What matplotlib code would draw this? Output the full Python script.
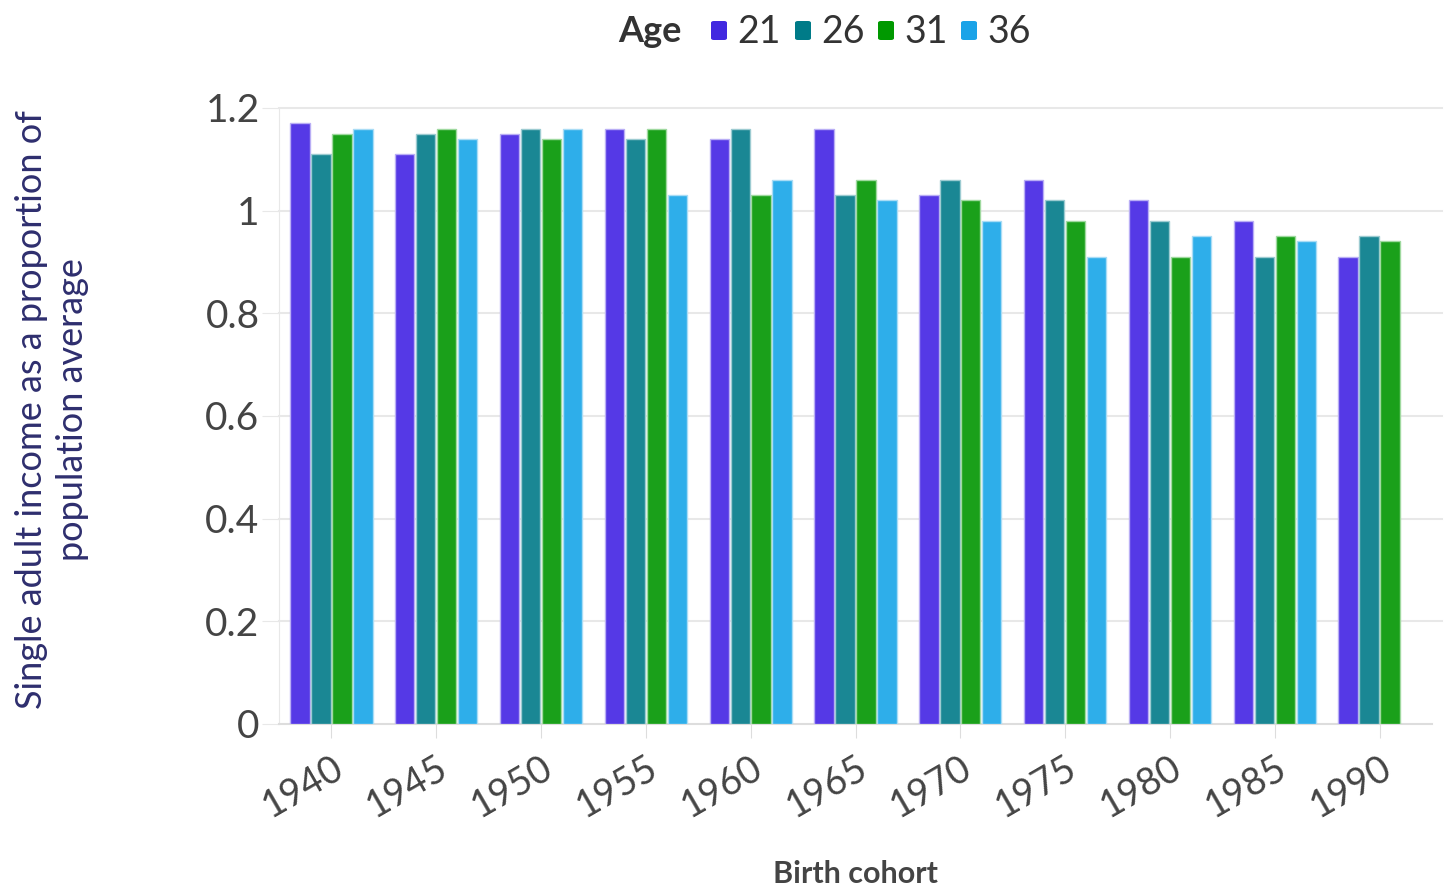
import numpy as np
import matplotlib
matplotlib.use("Agg")
import matplotlib.pyplot as plt
from matplotlib.patches import FancyBboxPatch

plt.rcParams['font.family'] = ['Lato', 'DejaVu Sans']

# Data
cohorts = ['1940', '1945', '1950', '1955', '1960', '1965', '1970', '1975', '1980', '1985', '1990']
age21 = [1.17, 1.11, 1.15, 1.16, 1.14, 1.16, 1.03, 1.06, 1.02, 0.98, 0.91]
age26 = [1.11, 1.15, 1.16, 1.14, 1.16, 1.03, 1.06, 1.02, 0.98, 0.91, 0.95]
age31 = [1.15, 1.16, 1.14, 1.16, 1.03, 1.06, 1.02, 0.98, 0.91, 0.95, 0.94]
age36 = [1.16, 1.14, 1.16, 1.03, 1.06, 1.02, 0.98, 0.91, 0.95, 0.94, np.nan]

ages = ['21', '26', '31', '36']
series = [age21, age26, age31, age36]
bar_colors = ['#5539e6', '#1a8794', '#1aa01a', '#2eaeea']
edge_colors = ['#b9aef5', '#9ccbd1', '#9fd99f', '#a9dcf5']
legend_colors = ['#4128e0', '#007b88', '#009900', '#1aa3e8']

W, H = 1445, 886
fig = plt.figure(figsize=(W / 100, H / 100), dpi=100)
ax = fig.add_axes([279 / W, 1 - 724 / H, (1432 - 279) / W, (724 - 108) / H])

x = np.arange(len(cohorts))
step = 0.2
for i, (vals, c, ec) in enumerate(zip(series, bar_colors, edge_colors)):
    ax.bar(x + (i - 1.5) * step, vals, width=0.185, color=c,
           edgecolor=ec, linewidth=1, zorder=3)

ax.set_xlim(-0.5, len(cohorts) - 0.5)
ax.set_ylim(0, 1.2)
ax.set_yticks([0, 0.2, 0.4, 0.6, 0.8, 1.0, 1.2])
ax.set_yticklabels(['0', '0.2', '0.4', '0.6', '0.8', '1', '1.2'])
ax.set_xticks(x)
ax.set_xticklabels(cohorts, rotation=30, ha='right', rotation_mode='anchor')

# gridlines run a little past the last group, as in the original
for yv in [0.2, 0.4, 0.6, 0.8, 1.0, 1.2]:
    ax.plot([-0.5, len(cohorts) - 0.4], [yv, yv], color='#e8e8e8',
            linewidth=1.5, zorder=0, clip_on=False)
for s in ['top', 'right']:
    ax.spines[s].set_visible(False)
ax.spines['left'].set_color('#e8e8e8')
ax.spines['bottom'].set_color('#dddddd')
ax.spines['bottom'].set_linewidth(1.5)
ax.tick_params(axis='y', length=12, color='#e8e8e8', labelsize=28,
               labelcolor='#444444', pad=2)
ax.tick_params(axis='x', length=10, color='#dddddd', labelsize=27,
               labelcolor='#444444', pad=8)

ax.set_xlabel('Birth cohort', fontsize=22, fontweight='bold', color='#444444',
              labelpad=26)
fig.text(52 / W, 1 - 410 / H,
         'Single adult income as a proportion of\npopulation average',
         rotation=90, ha='center', va='center', fontsize=26,
         color='#2e2e6e', linespacing=1.3)

# Legend across the top
def fx(px):
    return px / W

def fy(py):
    return 1 - py / H

fig.text(fx(618), fy(31), 'Age', fontsize=26, fontweight='bold',
         color='#333333', ha='left', va='center')
sq_x = [711, 795, 878, 961]
for sx, lab, c in zip(sq_x, ages, legend_colors):
    fig.patches.append(FancyBboxPatch((fx(sx), fy(40)), 16 / W, 19 / H,
                                      boxstyle='round,pad=0,rounding_size=0.002',
                                      transform=fig.transFigure, facecolor=c,
                                      edgecolor='none'))
    fig.text(fx(sx + 26), fy(32), lab, fontsize=27, color='#333333',
             ha='left', va='center')

fig.savefig('out.png', dpi=100)
